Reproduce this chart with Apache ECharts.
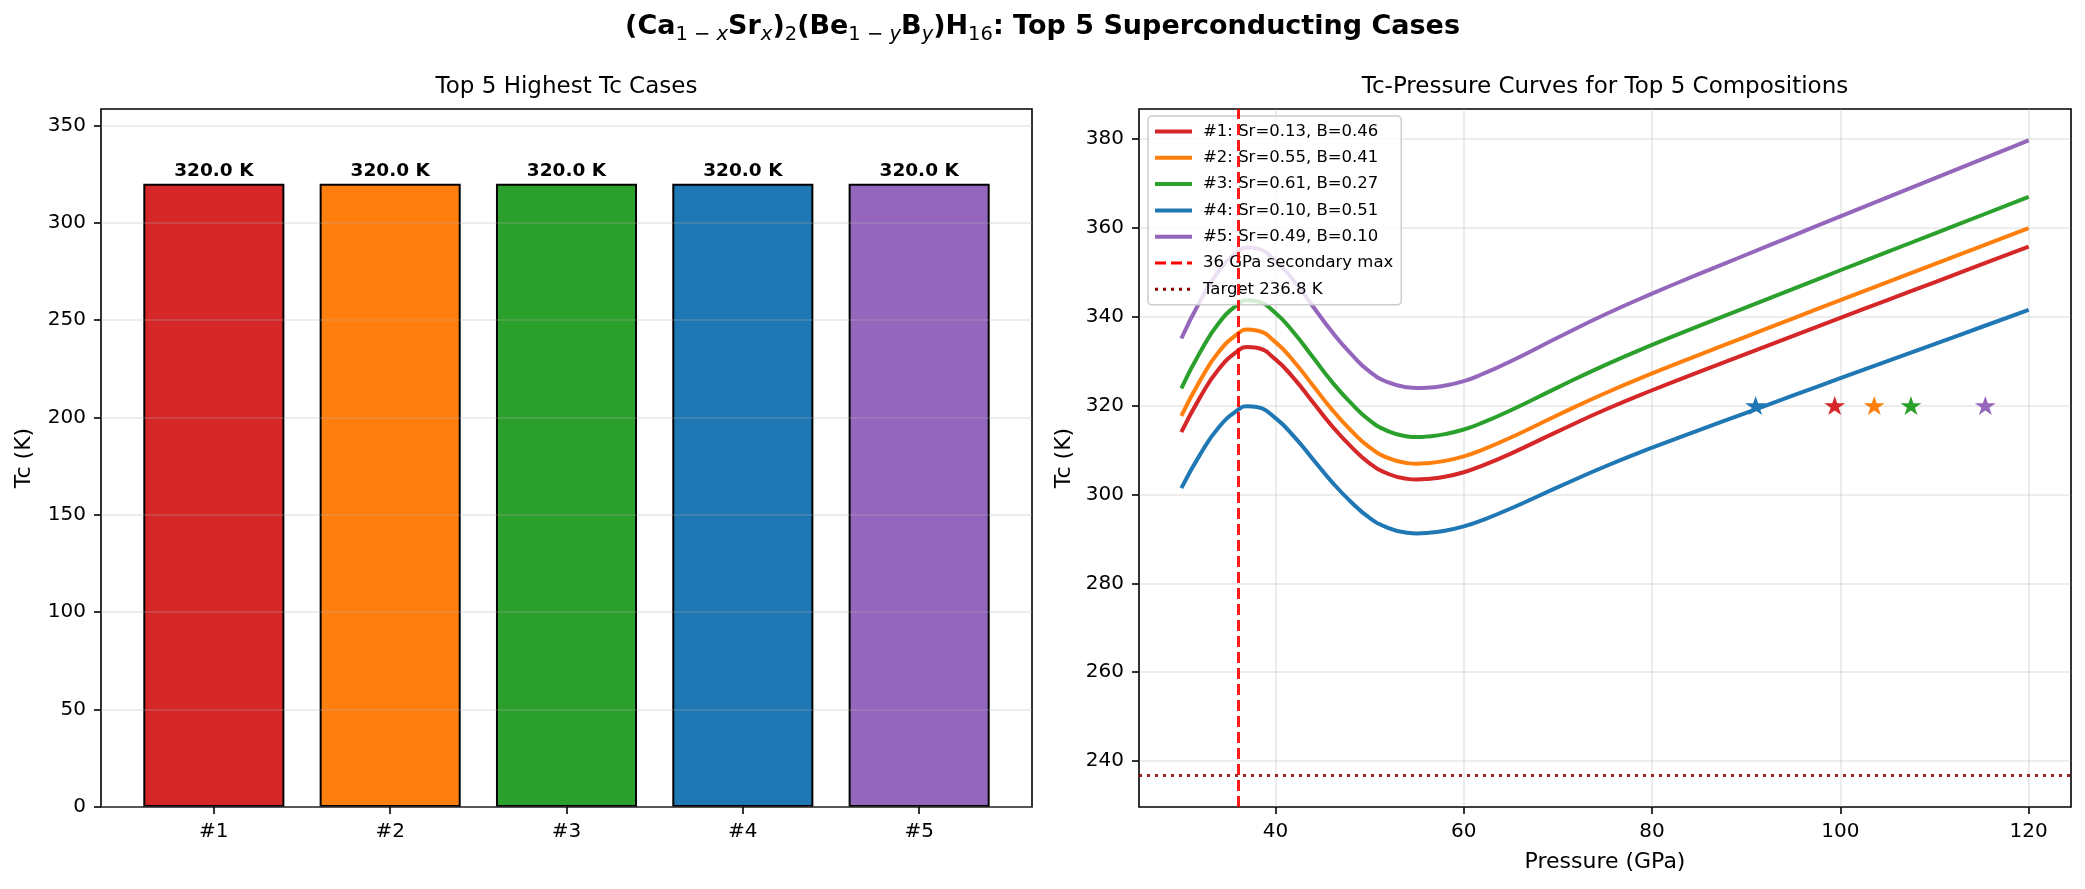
<!DOCTYPE html>
<html><head><meta charset="utf-8">
<script src="https://cdn.jsdelivr.net/npm/echarts@6/dist/echarts.min.js"></script>
<style>html,body{margin:0;padding:0;background:#fff}#c{width:2085px;height:889px}</style>
</head><body><div id="c"></div>
<script>
// ---------------- data ----------------
const caseLabels = ['#1', '#2', '#3', '#4', '#5'];
const caseTc = [320.0, 320.0, 320.0, 320.0, 320.0];
const compLabels = ['#1: Sr=0.13, B=0.46', '#2: Sr=0.55, B=0.41', '#3: Sr=0.61, B=0.27', '#4: Sr=0.10, B=0.51', '#5: Sr=0.49, B=0.10'];
const pressure = [30, 32, 34, 36, 37, 38, 40, 42, 44, 46, 48, 50, 52, 54, 55, 56, 58, 60, 62, 65, 70, 75, 80, 85, 90, 95, 100, 105, 110, 115, 120];
const tc1 = [314.0, 321.9, 328.3, 332.3, 333.2, 333.0, 330.4, 326.0, 320.7, 315.4, 310.8, 307.0, 304.6, 303.5, 303.35, 303.45, 304.0, 305.0, 306.5, 309.2, 314.2, 319.05, 323.45, 327.6, 331.65, 335.7, 339.75, 343.75, 347.75, 351.75, 355.75];
const tc2 = [317.67, 325.67, 332.14, 336.19, 337.10, 336.90, 334.27, 329.81, 324.45, 319.09, 314.44, 310.59, 308.16, 307.05, 306.90, 307.00, 307.56, 308.57, 310.09, 312.82, 317.88, 322.78, 327.23, 331.43, 335.53, 339.63, 343.72, 347.77, 351.82, 355.87, 359.91];
const tc3 = [323.89, 332.04, 338.64, 342.77, 343.70, 343.49, 340.81, 336.27, 330.80, 325.33, 320.59, 316.67, 314.19, 313.06, 312.90, 313.01, 313.58, 314.61, 316.15, 318.94, 324.10, 329.10, 333.64, 337.92, 342.10, 346.27, 350.45, 354.58, 358.70, 362.83, 366.96];
const tc4 = [301.44, 309.02, 315.17, 319.01, 319.87, 319.68, 317.18, 312.96, 307.87, 302.78, 298.37, 294.72, 292.42, 291.36, 291.22, 291.31, 291.84, 292.80, 294.24, 296.83, 301.63, 306.29, 310.51, 314.50, 318.38, 322.27, 326.16, 330.00, 333.84, 337.68, 341.52];
const tc5 = [335.10, 343.53, 350.36, 354.63, 355.59, 355.38, 352.60, 347.91, 342.25, 336.60, 331.69, 327.63, 325.2, 324.1, 323.95, 324.0, 324.5, 325.5, 327.10, 329.98, 335.31, 340.49, 345.19, 349.62, 353.94, 358.26, 362.58, 366.85, 371.12, 375.39, 379.66];
const starPressure = [99.4, 103.6, 107.5, 91.0, 115.4];
const starTc = [320.0, 320.0, 320.0, 320.0, 320.0];
const secondaryMaxP = 36;
const targetTc = 236.8;
const secondaryLabel = '36 GPa secondary max';
const targetLabel = 'Target 236.8 K';
const leftYTicks = [0, 50, 100, 150, 200, 250, 300, 350];
const barTicks = [0, 1, 2, 3, 4];
const rightXTicks = [40, 60, 80, 100, 120];
const rightYTicks = [240, 260, 280, 300, 320, 340, 360, 380];

// ---------------- style / layout ----------------
const colors = ['#d62728', '#ff7f0e', '#2ca02c', '#1f77b4', '#9467bd'];
const FONT = 'DejaVu Sans';
const G1 = {left: 101, top: 109, width: 931, height: 698};
const G2 = {left: 1139, top: 109, width: 932, height: 698};
const gridLineColor = 'rgba(176,176,176,0.3)';
const x1min = -0.64, x1max = 4.64;
const barW = 0.8 * G1.width / (x1max - x1min);
const y1max = Math.max(...caseTc) * 1.12;
const x2min = 25.5, x2max = 124.5;
const y2min = 229.66, y2max = 386.74;

function axisCommon(ticks, fmt, extra) {
  return Object.assign({
    axisLine: {show: false, onZero: false},
    axisTick: {show: true, customValues: ticks, length: 7, lineStyle: {color: '#000', width: 1.6}},
    axisLabel: {show: true, customValues: ticks, color: '#000', fontSize: 20, fontFamily: FONT, margin: 15, formatter: fmt},
    splitLine: {show: false}
  }, extra || {});
}

const curves = [tc1, tc2, tc3, tc4, tc5];
const starPath = 'path://M0,-1 L0.2245,-0.309 L0.951,-0.309 L0.363,0.118 L0.588,0.809 L0,0.382 L-0.588,0.809 L-0.363,0.118 L-0.951,-0.309 L-0.2245,-0.309 Z';

const series = [];
series.push({
  type: 'bar', xAxisIndex: 0, yAxisIndex: 0, z: -1,
  barWidth: barW,
  data: caseTc.map((v, i) => ({value: [i, v], itemStyle: {color: colors[i]}})),
  itemStyle: {borderColor: '#000', borderWidth: 2},
  label: {show: true, position: 'top', distance: 3, color: '#000', fontWeight: 'bold', fontSize: 18.5, fontFamily: FONT,
          formatter: p => p.value[1].toFixed(1) + ' K'}
});
curves.forEach((arr, i) => {
  series.push({
    type: 'line', name: compLabels[i], xAxisIndex: 1, yAxisIndex: 1,
    data: pressure.map((p, k) => [p, arr[k]]),
    symbol: 'none', smooth: 0.5,
    lineStyle: {color: colors[i], width: 4},
    itemStyle: {color: colors[i]}, z: 3
  });
});
series.push({
  type: 'line', name: secondaryLabel, xAxisIndex: 1, yAxisIndex: 1, data: [], symbol: 'none', z: 4,
  lineStyle: {color: '#ff0000', width: 3, type: [11, 5]}, itemStyle: {color: '#ff0000'},
  markLine: {silent: true, symbol: ['none', 'none'], label: {show: false},
    lineStyle: {color: '#ff0000', width: 3, type: [11, 5], opacity: 0.9},
    data: [{xAxis: secondaryMaxP}]}
});
series.push({
  type: 'line', name: targetLabel, xAxisIndex: 1, yAxisIndex: 1, data: [], symbol: 'none', z: 4,
  lineStyle: {color: '#8b0000', width: 3, type: [3, 5]}, itemStyle: {color: '#8b0000'},
  markLine: {silent: true, symbol: ['none', 'none'], label: {show: false},
    lineStyle: {color: '#8b0000', width: 3, type: [3, 5], opacity: 0.85},
    data: [{yAxis: targetTc}]}
});
starPressure.forEach((p, i) => {
  series.push({
    type: 'scatter', xAxisIndex: 1, yAxisIndex: 1, z: 5,
    symbol: starPath, symbolKeepAspect: true, symbolSize: [21, 20],
    itemStyle: {color: colors[i], opacity: 1},
    data: [[p, starTc[i]]]
  });
});

const option = {
  animation: false,
  backgroundColor: '#fff',
  textStyle: {fontFamily: FONT},
  title: [
    {
      left: 'center', top: 9, padding: 0,
      text: '{b|(Ca}{s|1 − }{si|x}{b|Sr}{si|x}{b|)}{s|2}{b|(Be}{s|1 − }{si|y}{b|B}{si|y}{b|)H}{s|16}{b|: Top 5 Superconducting Cases}',
      textStyle: {
        fontFamily: FONT, color: '#000',
        rich: {
          b: {fontFamily: FONT, fontSize: 27, fontWeight: 'bold', color: '#000', lineHeight: 36},
          s: {fontFamily: FONT, fontSize: 19.5, fontWeight: 'normal', color: '#000', lineHeight: 18, verticalAlign: 'bottom'},
          si: {fontFamily: FONT, fontSize: 19.5, fontWeight: 'normal', fontStyle: 'italic', color: '#000', lineHeight: 18, verticalAlign: 'bottom'}
        }
      }
    },
    {text: 'Top 5 Highest Tc Cases', left: G1.left + G1.width / 2, textAlign: 'center', top: 76, padding: 0,
     textStyle: {fontFamily: FONT, fontSize: 23, fontWeight: 'normal', color: '#000'}},
    {text: 'Tc-Pressure Curves for Top 5 Compositions', left: G2.left + G2.width / 2, textAlign: 'center', top: 76, padding: 0,
     textStyle: {fontFamily: FONT, fontSize: 23, fontWeight: 'normal', color: '#000'}}
  ],
  legend: {
    orient: 'vertical', left: 1148, top: 116, padding: [7, 8, 7, 5],
    itemWidth: 37, itemHeight: 14, itemGap: 9.3,
    lineStyle: {width: 'inherit'},
    itemStyle: {color: 'transparent', borderColor: 'transparent', borderWidth: 0, opacity: 0},
    backgroundColor: 'rgba(255,255,255,0.8)', borderColor: '#cccccc', borderWidth: 1.5, borderRadius: 4,
    textStyle: {fontFamily: FONT, fontSize: 16.5, color: '#000', padding: [0, 0, 0, 6]},
    data: compLabels.concat([secondaryLabel, targetLabel])
  },
  grid: [
    Object.assign({show: true, borderColor: '#000', borderWidth: 1.6, containLabel: false}, G1),
    Object.assign({show: true, borderColor: '#000', borderWidth: 1.6, containLabel: false}, G2)
  ],
  xAxis: [
    axisCommon(barTicks, v => caseLabels[Math.round(v)] || '', {type: 'value', gridIndex: 0, min: x1min, max: x1max}),
    axisCommon(rightXTicks, v => String(v), {type: 'value', gridIndex: 1, min: x2min, max: x2max,
      name: 'Pressure (GPa)', nameLocation: 'middle', nameGap: 44,
      nameTextStyle: {fontFamily: FONT, fontSize: 22, color: '#000'},
      splitLine: {show: true, lineStyle: {color: gridLineColor, width: 1.6}}})
  ],
  yAxis: [
    axisCommon(leftYTicks, v => String(v), {type: 'value', gridIndex: 0, min: 0, max: y1max,
      name: 'Tc (K)', nameLocation: 'middle', nameGap: 66, nameRotate: 90,
      nameTextStyle: {fontFamily: FONT, fontSize: 22, color: '#000'},
      splitLine: {show: true, lineStyle: {color: gridLineColor, width: 1.6}}}),
    axisCommon(rightYTicks, v => String(v), {type: 'value', gridIndex: 1, min: y2min, max: y2max,
      name: 'Tc (K)', nameLocation: 'middle', nameGap: 64, nameRotate: 90,
      nameTextStyle: {fontFamily: FONT, fontSize: 22, color: '#000'},
      splitLine: {show: true, lineStyle: {color: gridLineColor, width: 1.6}}})
  ],
  series: series
};
const chart = echarts.init(document.getElementById('c'), null, {renderer: 'canvas'});
chart.setOption(option);
</script>
</body></html>
